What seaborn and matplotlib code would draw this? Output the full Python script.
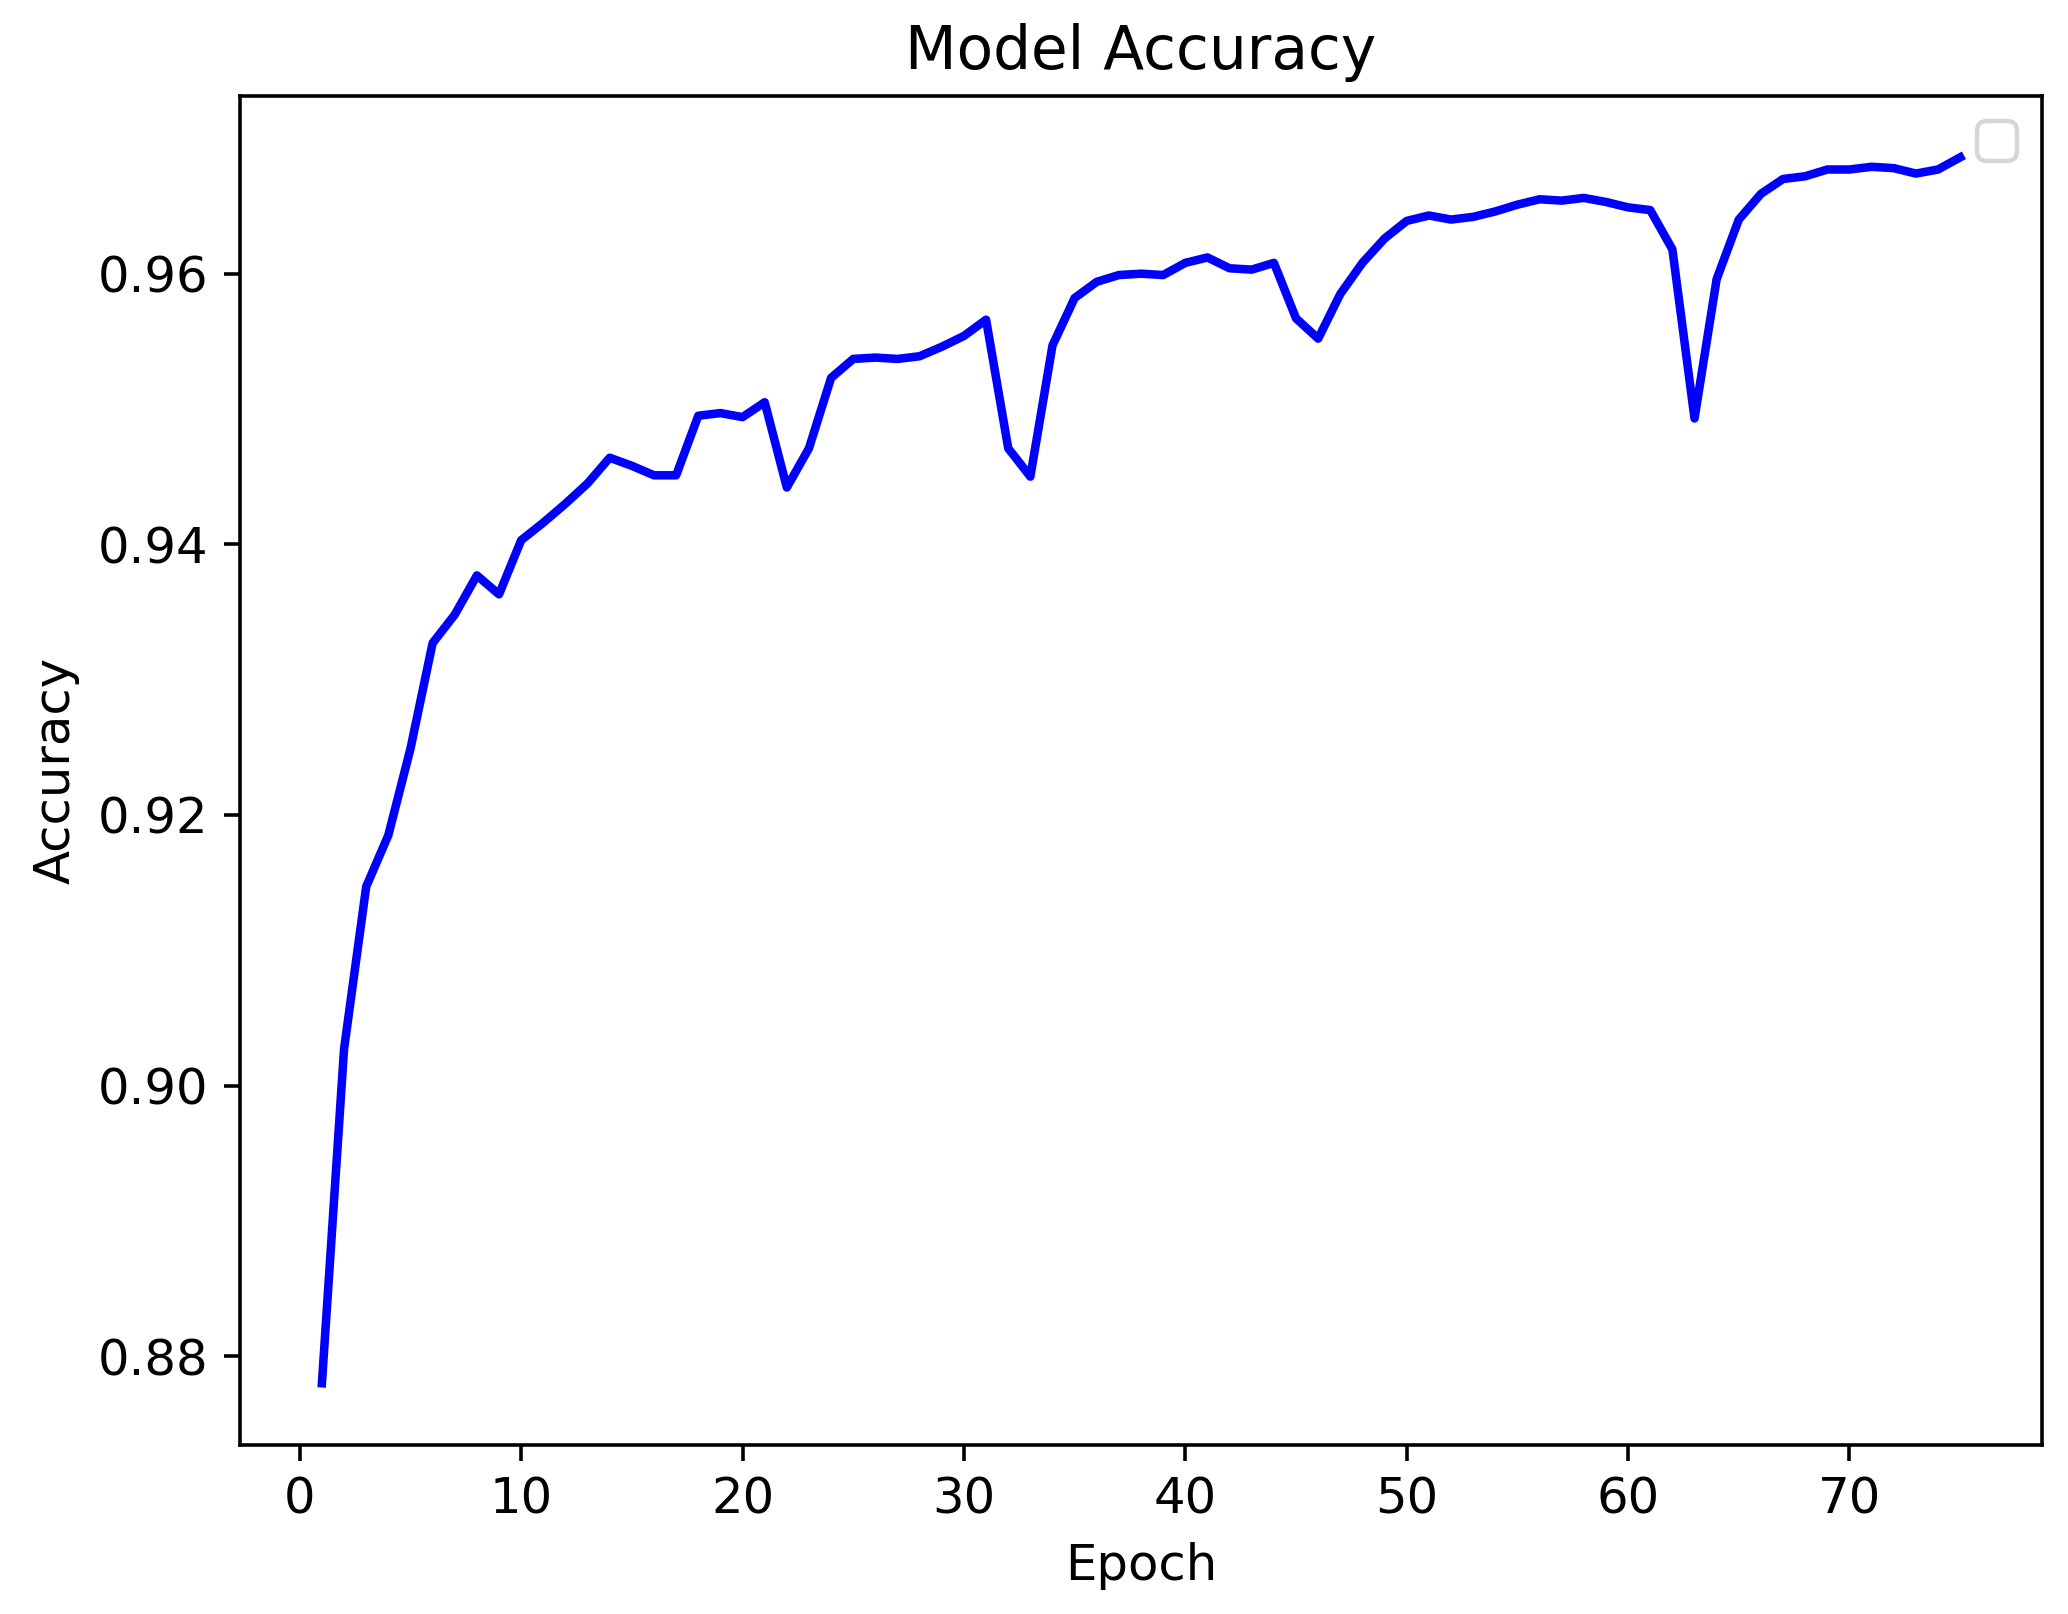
import numpy as np
import pandas as pd
import seaborn as sns
import matplotlib
matplotlib.use("Agg")
import matplotlib.pyplot as plt

# accuracy per epoch
epochs = list(range(1, 76))
accuracy = [
    0.8780, 0.9027, 0.9147, 0.9185, 0.9249, 0.9327, 0.9348, 0.9377, 0.9363, 0.9403,
    0.9416, 0.9430, 0.9445, 0.9464, 0.9458, 0.9451, 0.9451, 0.9495, 0.9497, 0.9494,
    0.9505, 0.9442, 0.9471, 0.9523, 0.9537, 0.9538, 0.9537, 0.9539, 0.9546, 0.9554,
    0.9566, 0.9471, 0.9450, 0.9547, 0.9582, 0.9594, 0.9599, 0.9600, 0.9599, 0.9608,
    0.9612, 0.9604, 0.9603, 0.9608, 0.9567, 0.9552, 0.9585, 0.9608, 0.9626, 0.9639,
    0.9643, 0.9640, 0.9642, 0.9646, 0.9651, 0.9655, 0.9654, 0.9656, 0.9653, 0.9649,
    0.9647, 0.9618, 0.9493, 0.9596, 0.9640, 0.9659, 0.9670, 0.9672, 0.9677, 0.9677,
    0.9679, 0.9678, 0.9674, 0.9677, 0.9686,
]

df = pd.DataFrame({"Epoch": epochs, "Accuracy": accuracy})

plt.rcParams["font.size"] = 11.1

fig, ax = plt.subplots(figsize=(6.4, 4.9926), dpi=323.28)
sns.lineplot(data=df, x="Epoch", y="Accuracy", color="blue", linewidth=1.9, ax=ax)
ax.set_title("Model Accuracy")
ax.set_xlabel("Epoch")
ax.set_ylabel("Accuracy")
ax.legend()  # no labelled artists -> empty legend box, as in the original
fig.subplots_adjust(left=0.116, right=0.987, top=0.9405, bottom=0.105)
fig.savefig("out.png")
